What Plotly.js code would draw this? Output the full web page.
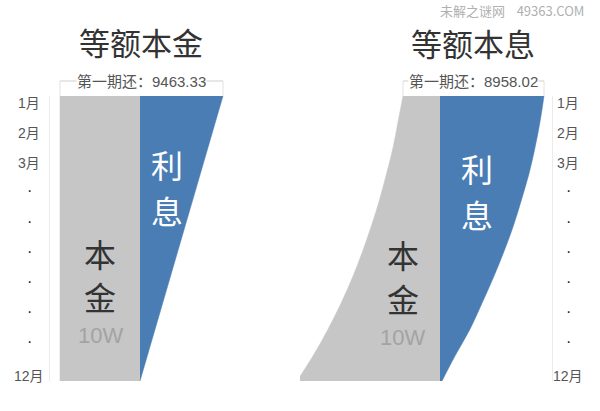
<!DOCTYPE html>
<html>
<head>
<meta charset="utf-8">
<script src="https://cdn.plot.ly/plotly-3.0.1.min.js"></script>
<style>html,body{margin:0;padding:0;background:#fff;}#chart{width:600px;height:411px;}</style>
</head>
<body>
<div id="chart"></div>
<script>
// ---- data (schematic widths) ----
const months = [1,2,3,4,5,6,7,8,9,10,11,12];
// 等额本金 (equal principal)
const principalL = [80,80,80,80,80,80,80,80,80,80,80,80];
const interestL  = [83,75.5,68,60.5,53,45.5,38,30,22.5,15,7.5,0];
// 等额本息 (equal installment)
const principalR = [37,42,47,53.5,60.5,68.5,77.5,87.5,99,112,126.5,143];
const interestR  = [104,100,95,89,81.5,73.5,64,53.5,42,30,15.5,2];
// month tick labels
const tickText = ['1月','2月','3月','·','·','·','·','·','·','12月'];
const tickPos  = [1.27,2.43,3.59,4.65,5.85,7.01,8.17,9.33,10.49,11.79];
const titles = ['等额本金','等额本息'];
const firstPay = ['9463.33','8958.02'];

// ---- layout helpers ----
const W = 600, H = 411;
const M = {l:50, r:48, t:96, b:30};
const PW = W - M.l - M.r, PH = H - M.t - M.b;
const px = x => (x - M.l) / PW;
const py = y => 1 + (M.t - y) / PH;

const GREY = '#c6c6c6', BLUE = '#4a7db4';
const FONT = '"Noto Sans CJK SC", "Noto Sans", sans-serif';
const FONT_L = '"Liberation Sans", "Noto Sans CJK SC", sans-serif';

const neg = a => a.map(v => -v);

const traces = [
  {x: neg(principalL), y: months, xaxis:'x', yaxis:'y', type:'scatter', mode:'lines',
   fill:'tozerox', fillcolor:GREY, line:{color:GREY, width:0.5}, hoverinfo:'skip'},
  {x: interestL, y: months, xaxis:'x', yaxis:'y', type:'scatter', mode:'lines',
   fill:'tozerox', fillcolor:BLUE, line:{color:BLUE, width:0.5}, hoverinfo:'skip'},
  {x: neg(principalR), y: months, xaxis:'x2', yaxis:'y2', type:'scatter', mode:'lines',
   fill:'tozerox', fillcolor:GREY, line:{color:GREY, width:0.5, shape:'spline', smoothing:1}, hoverinfo:'skip'},
  {x: interestR, y: months, xaxis:'x2', yaxis:'y2', type:'scatter', mode:'lines',
   fill:'tozerox', fillcolor:BLUE, line:{color:BLUE, width:0.5, shape:'spline', smoothing:1}, hoverinfo:'skip'}
];

const annotations = [];
// month labels on both sides
tickText.forEach((t, i) => {
  const isDot = t === '·';
  [[px(29),'y'],[px(568),'y2']].forEach(([xp, yr]) => {
    annotations.push({x: xp, xref:'paper', y: tickPos[i], yref: yr, text: t, showarrow:false,
      xanchor:'center', yanchor:'middle',
      font:{family:FONT_L, size: isDot ? 16 : 14, color: isDot ? '#222' : '#555'}});
  });
});
// titles
annotations.push({x:px(141), y:py(41.5), xref:'paper', yref:'paper', text:titles[0], showarrow:false,
  xanchor:'center', yanchor:'middle', font:{family:FONT, size:31, color:'#333'}});
annotations.push({x:px(473), y:py(42), xref:'paper', yref:'paper', text:titles[1], showarrow:false,
  xanchor:'center', yanchor:'middle', font:{family:FONT, size:31, color:'#333'}});
// watermark
annotations.push({x:px(512), y:py(11), xref:'paper', yref:'paper', text:'未解之谜网&nbsp;&nbsp;&nbsp;&nbsp;49363.COM', showarrow:false,
  xanchor:'center', yanchor:'middle', font:{family:FONT, size:13, color:'#b0b0b0'}});
// first payment brackets
const brY = py(81), topY = 1;
const shapes = [];
[['x', -principalL[0], interestL[0], firstPay[0]], ['x2', -principalR[0], interestR[0], firstPay[1]]].forEach(([xr, a, b, val]) => {
  shapes.push({type:'line', xref:xr, yref:'paper', x0:a, x1:b, y0:brY, y1:brY, line:{color:'#cfcfcf', width:1}});
  shapes.push({type:'line', xref:xr, yref:'paper', x0:a, x1:a, y0:brY, y1:topY, line:{color:'#e2e2e2', width:1}});
  shapes.push({type:'line', xref:xr, yref:'paper', x0:b, x1:b, y0:brY, y1:topY, line:{color:'#e2e2e2', width:1}});
  annotations.push({x:(a+b)/2, xref:xr, y:brY, yref:'paper', text:'第一期还：' + val, showarrow:false,
    xanchor:'center', yanchor:'middle', bgcolor:'#ffffff', borderpad:0,
    font:{family:FONT_L, size:15, color:'#555'}});
});
// inner labels
const inner = [
  [167,164,'利','#fff',32],[167,210,'息','#fff',32],
  [100,253,'本','#333',32],[100,296,'金','#333',32],[100,335,'10W','#a3a3a3',22],
  [477,168,'利','#fff',32],[477,214,'息','#fff',32],
  [403,254,'本','#333',32],[403,298,'金','#333',32],[402,337,'10W','#a3a3a3',22]
];
inner.forEach(([x,y,t,c,s]) => annotations.push({x:px(x), y:py(y), xref:'paper', yref:'paper', text:t,
  showarrow:false, xanchor:'center', yanchor:'middle', font:{family: t === '10W' ? FONT_L : FONT, size:s, color:c}}));

const axY = {range:[12,1], showgrid:false, zeroline:false, showticklabels:false, ticks:'',
  showline:true, linecolor:'#ebebeb', linewidth:1, fixedrange:true};
const layout = {
  width:W, height:H, margin:M, paper_bgcolor:'#ffffff', plot_bgcolor:'rgba(0,0,0,0)',
  showlegend:false,
  xaxis:{domain:[0, px(300)], range:[-90,160], visible:false, fixedrange:true},
  xaxis2:{domain:[px(300), 1], range:[-140,112], visible:false, fixedrange:true},
  yaxis:Object.assign({anchor:'x', side:'left'}, axY),
  yaxis2:Object.assign({anchor:'x2', side:'right'}, axY),
  shapes, annotations
};
Plotly.newPlot('chart', traces, layout, {staticPlot:true, displayModeBar:false});
</script>
</body>
</html>
